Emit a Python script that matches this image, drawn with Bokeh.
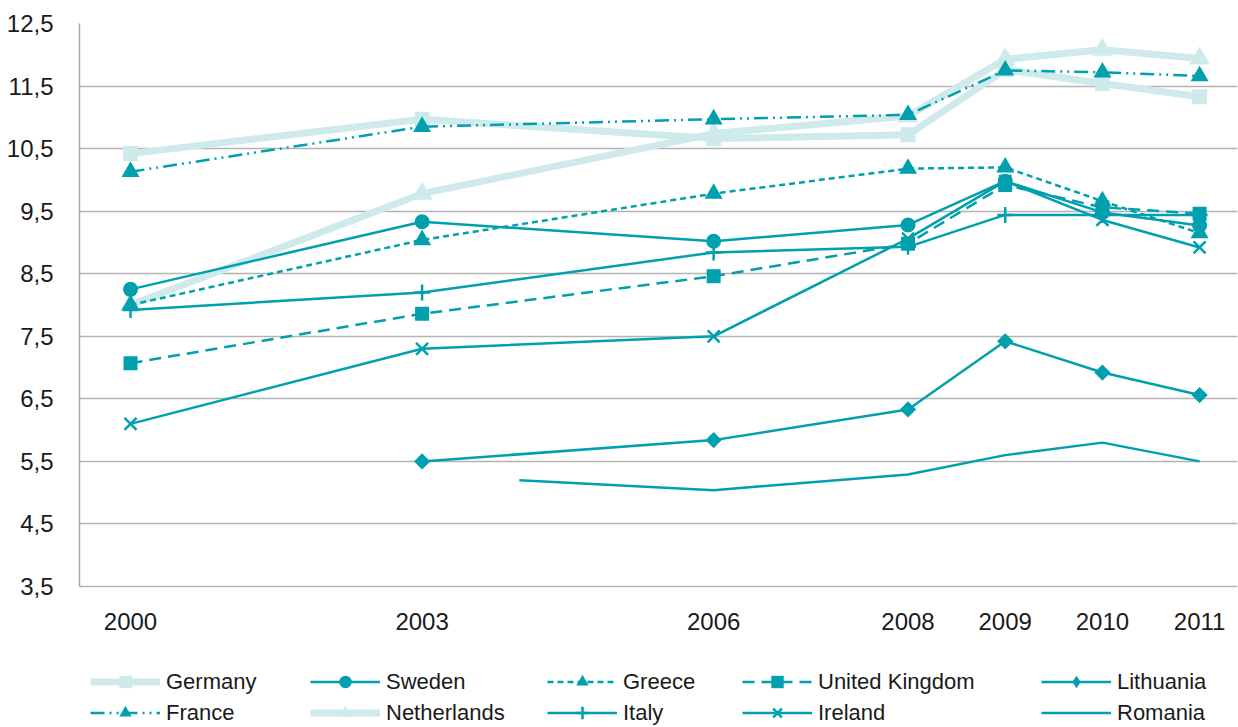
from bokeh.plotting import figure
from bokeh.models import FixedTicker, Legend, LegendItem, Range1d
from bokeh.embed import file_html
from bokeh.resources import INLINE

# ---- data ----
years = [2000, 2003, 2006, 2008, 2009, 2010, 2011]
germany = [10.42, 10.97, 10.66, 10.72, 11.76, 11.54, 11.33]
france = [10.13, 10.85, 10.97, 11.04, 11.75, 11.72, 11.66]
netherlands = [8.0, 9.78, 10.74, 11.02, 11.93, 12.08, 11.94]
sweden = [8.25, 9.33, 9.02, 9.28, 9.98, 9.48, 9.27]
greece = [8.0, 9.04, 9.78, 10.18, 10.2, 9.66, 9.15]
united_kingdom = [7.07, 7.86, 8.46, 8.98, 9.92, 9.56, 9.46]
italy = [7.92, 8.2, 8.84, 8.93, 9.44, 9.44, 9.44]
ireland = [6.1, 7.3, 7.5, 9.06, 9.98, 9.36, 8.92]
lithuania_years = [2003, 2006, 2008, 2009, 2010, 2011]
lithuania = [5.5, 5.84, 6.33, 7.42, 6.92, 6.56]
romania_years = [2004, 2006, 2008, 2009, 2010, 2011]
romania = [5.2, 5.04, 5.29, 5.6, 5.8, 5.5]

x_ticks = [2000, 2003, 2006, 2008, 2009, 2010, 2011]
y_ticks = [3.5, 4.5, 5.5, 6.5, 7.5, 8.5, 9.5, 10.5, 11.5, 12.5]
y_tick_labels = ["3,5", "4,5", "5,5", "6,5", "7,5", "8,5", "9,5", "10,5", "11,5", "12,5"]

TEAL = "#00A0AE"
LIGHT = "#CFEAEB"
FONT = "Liberation Sans"

# frame spans the whole height (legend lives inside it); value axis 3.5..12.5
# occupies pixels 23..586, the rest below is room for x labels and legend
Y_BOTTOM = 3.5 - 141 * 9 / 563
p = figure(width=1238, height=727, output_backend="svg", toolbar_location=None,
           x_range=Range1d(1999.475, 2011.39), y_range=Range1d(Y_BOTTOM, 12.5),
           min_border_left=79, min_border_right=1, min_border_top=23, min_border_bottom=0)
p.outline_line_color = None
p.background_fill_color = "white"
p.border_fill_color = "white"

# axes
p.xaxis.ticker = FixedTicker(ticks=x_ticks)
p.xaxis.fixed_location = 3.5
p.yaxis.ticker = FixedTicker(ticks=y_ticks)
p.yaxis.bounds = (3.5, 12.5)
p.yaxis.major_label_overrides = {t: l for t, l in zip(y_ticks, y_tick_labels)}
for ax in (p.xaxis[0], p.yaxis[0]):
    ax.major_tick_line_color = None
    ax.minor_tick_line_color = None
    ax.major_tick_out = 0
    ax.major_tick_in = 0
    ax.major_label_text_font = FONT
    ax.major_label_text_font_size = "24px"
    ax.major_label_text_color = "#1a1a1a"
p.xaxis.axis_line_color = None
p.xaxis.major_label_standoff = 26
p.yaxis.axis_line_color = "#a6a6a6"
p.yaxis.axis_line_width = 1.5
p.yaxis.major_label_standoff = 26

p.xgrid.grid_line_color = None
p.ygrid.grid_line_color = "#b3b3b3"
p.ygrid.grid_line_width = 1.5
p.ygrid.ticker = FixedTicker(ticks=y_ticks)

def series(xs, ys, color, width, dash, marker=None, size=14, line_width_m=0):
    rs = [p.line(xs, ys, line_color=color, line_width=width, line_dash=dash)]
    if marker:
        rs.append(p.scatter(xs, ys, marker=marker, size=size,
                            fill_color=color, line_color=color, line_width=line_width_m))
    return rs

r_germany = series(years, germany, LIGHT, 7, "solid", "square", 15)
r_neth = series(years, netherlands, LIGHT, 7, "solid", "triangle", 21)
r_france = series(years, france, TEAL, 2.5, "14 5 2 5 2 5", "triangle", 18)
r_sweden = series(years, sweden, TEAL, 2.5, "solid", "circle", 15)
r_greece = series(years, greece, TEAL, 2.5, "6 4", "triangle", 18)
r_uk = series(years, united_kingdom, TEAL, 2.5, "12 7", "square", 14)
r_italy = series(years, italy, TEAL, 2.5, "solid", "cross", 16, line_width_m=2.5)
r_ireland = series(years, ireland, TEAL, 2.5, "solid", "x", 17, line_width_m=2.5)
# Lithuania: diamond marker (legend) under a square turned 45 degrees (chart look)
r_lith = series(lithuania_years, lithuania, TEAL, 2.5, "solid", "diamond", 12)
p.scatter(lithuania_years, lithuania, marker="square", size=11.5, angle=0.785398,
          fill_color=TEAL, line_color=TEAL, line_width=0)
r_rom = series(romania_years, romania, TEAL, 2.5, "solid")

columns = [
    (11, [("Germany", r_germany), ("France", r_france)]),
    (231, [("Sweden", r_sweden), ("Netherlands", r_neth)]),
    (468, [("Greece", r_greece), ("Italy", r_italy)]),
    (663, [("United Kingdom", r_uk), ("Ireland", r_ireland)]),
    (962, [("Lithuania", r_lith), ("Romania", r_rom)]),
]
for x0, its in columns:
    leg = Legend(items=[LegendItem(label=l, renderers=r) for l, r in its],
                 location=(x0, -1), orientation="vertical",
                 glyph_width=70, glyph_height=31, label_height=31, spacing=0,
                 padding=0, margin=0, label_standoff=6,
                 border_line_color=None, background_fill_alpha=0,
                 label_text_font=FONT, label_text_font_size="22px",
                 label_text_color="#1a1a1a")
    p.add_layout(leg)

open("out.html", "w").write(file_html(p, INLINE))
